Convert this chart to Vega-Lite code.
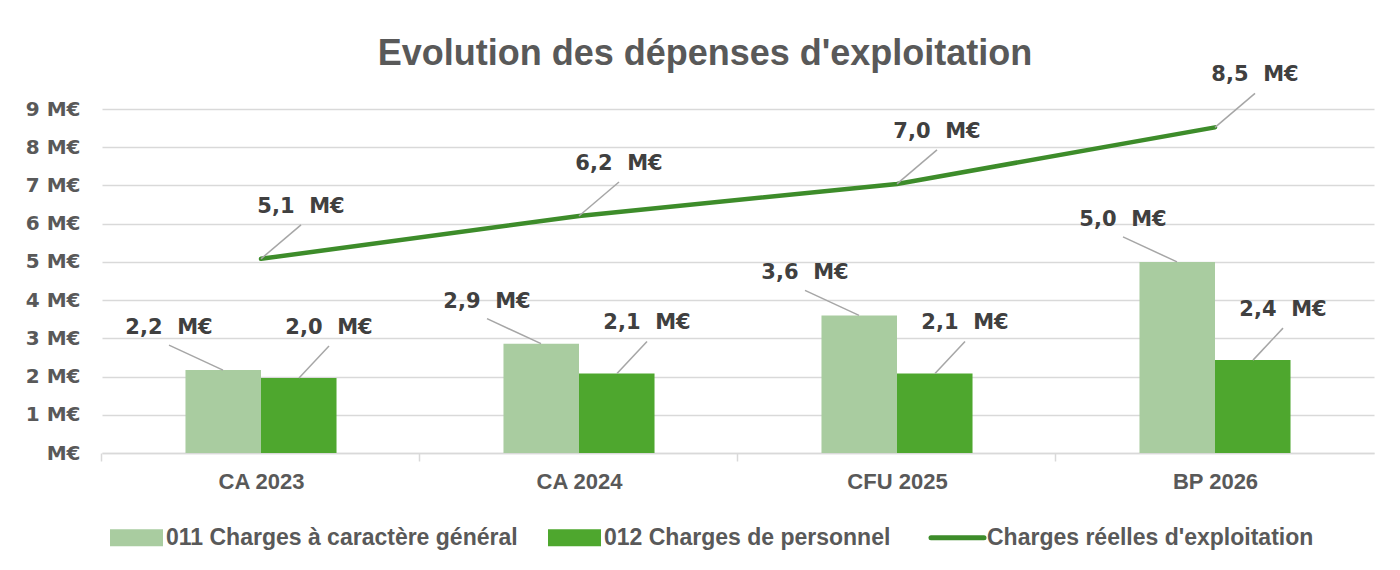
{
  "$schema": "https://vega.github.io/schema/vega-lite/v6.json",
  "width": 1272,
  "height": 344,
  "autosize": {"type": "none"},
  "padding": {"left": 102, "top": 109, "right": 26, "bottom": 117},
  "background": "white",
  "config": {"view": {"stroke": null}},
  "title": {
    "text": "Evolution des dépenses d'exploitation",
    "font": "Liberation Sans",
    "fontSize": 36,
    "fontWeight": "bold",
    "color": "#595959",
    "anchor": "middle",
    "frame": "group",
    "dx": -33,
    "offset": -9
  },
  "data": {
    "values": [
      {"cat": "CA 2023", "serie": "011 Charges à caractère général", "v": 2.17},
      {"cat": "CA 2024", "serie": "011 Charges à caractère général", "v": 2.86},
      {"cat": "CFU 2025", "serie": "011 Charges à caractère général", "v": 3.6},
      {"cat": "BP 2026", "serie": "011 Charges à caractère général", "v": 5.0},
      {"cat": "CA 2023", "serie": "012 Charges de personnel", "v": 1.96},
      {"cat": "CA 2024", "serie": "012 Charges de personnel", "v": 2.08},
      {"cat": "CFU 2025", "serie": "012 Charges de personnel", "v": 2.08},
      {"cat": "BP 2026", "serie": "012 Charges de personnel", "v": 2.43},
      {"cat": "CA 2023", "serie": "Charges réelles d'exploitation", "v": 5.08},
      {"cat": "CA 2024", "serie": "Charges réelles d'exploitation", "v": 6.2},
      {"cat": "CFU 2025", "serie": "Charges réelles d'exploitation", "v": 7.04},
      {"cat": "BP 2026", "serie": "Charges réelles d'exploitation", "v": 8.52}
    ]
  },
  "transform": [
    {"calculate": "replace(format(datum.v, '.1f'), '.', ',') + '\u00a0\u00a0M€'", "as": "label"}
  ],
  "encoding": {
    "x": {
      "field": "cat",
      "type": "nominal",
      "sort": ["CA 2023", "CA 2024", "CFU 2025", "BP 2026"],
      "scale": {"paddingInner": 0.525, "paddingOuter": 0.2625},
      "axis": {
        "title": null,
        "labelAngle": 0,
        "domainColor": "#d9d9d9",
        "domainWidth": 1.5,
        "tickColor": "#d9d9d9",
        "tickWidth": 1.5,
        "tickSize": 8,
        "bandPosition": 0,
        "tickOffset": -84,
        "labelOffset": 84,
        "labelFont": "Liberation Sans",
        "labelFontWeight": "bold",
        "labelFontSize": 22,
        "labelColor": "#595959",
        "labelPadding": 10,
        "grid": false
      }
    },
    "y": {
      "field": "v",
      "type": "quantitative",
      "scale": {"domain": [0, 9]},
      "axis": {
        "title": null,
        "values": [0, 1, 2, 3, 4, 5, 6, 7, 8, 9],
        "labelExpr": "datum.value === 0 ? 'M€' : datum.value + ' M€'",
        "domain": false,
        "ticks": false,
        "grid": true,
        "gridColor": "#d9d9d9",
        "gridWidth": 1.5,
        "labelFont": "DejaVu Sans",
        "labelFontWeight": "bold",
        "labelFontSize": 20,
        "labelColor": "#595959",
        "labelPadding": 22
      }
    }
  },
  "layer": [
    {
      "transform": [{"filter": "datum.serie !== \"Charges réelles d'exploitation\""}],
      "mark": {"type": "bar"},
      "encoding": {
        "xOffset": {"field": "serie", "type": "nominal", "scale": {"paddingInner": 0, "paddingOuter": 0}},
        "color": {
          "field": "serie",
          "type": "nominal",
          "scale": {
            "domain": ["011 Charges à caractère général", "012 Charges de personnel", "Charges réelles d'exploitation"],
            "range": ["#a9cca0", "#4ea72e", "#3d8c2a"]
          },
          "legend": {
            "title": null,
            "orient": "none",
            "legendX": 23,
            "legendY": 417,
            "direction": "horizontal",
            "symbolType": "M-1,-0.32H1V0.32H-1Z",
            "symbolSize": 2809,
            "symbolStrokeWidth": 0,
            "labelFont": "Liberation Sans",
            "labelFontWeight": "bold",
            "labelFontSize": 23,
            "labelColor": "#595959",
            "labelOffset": 18,
            "labelLimit": 600,
            "columnPadding": 30,
            "encode": {
              "symbols": {
                "update": {
                  "shape": {"signal": "test(/^C/, datum.value) ? 'M-1,0H1' : 'M-1,-0.32H1V0.32H-1Z'"},
                  "strokeWidth": {"signal": "test(/^C/, datum.value) ? 5 : 0"},
                  "strokeCap": {"value": "round"},
                  "stroke": {"scale": "color", "field": "value"},
                  "fill": {"scale": "color", "field": "value"},
                  "opacity": {"value": 1}
                }
              }
            }
          }
        }
      }
    },
    {
      "transform": [{"filter": "datum.serie === \"Charges réelles d'exploitation\""}],
      "mark": {"type": "line", "strokeWidth": 4.5, "strokeCap": "round"},
      "encoding": {
        "color": {"field": "serie", "type": "nominal"}
      }
    },
    {
      "transform": [{"filter": "datum.serie === '011 Charges à caractère général'"}],
      "mark": {"type": "rule", "stroke": "#a6a6a6", "strokeWidth": 1.5, "xOffset": -38, "x2Offset": -92, "y2Offset": -25},
      "encoding": {"x2": {"field": "cat"}, "y2": {"field": "v"}}
    },
    {
      "transform": [{"filter": "datum.serie === '012 Charges de personnel'"}],
      "mark": {"type": "rule", "stroke": "#a6a6a6", "strokeWidth": 1.5, "xOffset": 38, "x2Offset": 68, "y2Offset": -32},
      "encoding": {"x2": {"field": "cat"}, "y2": {"field": "v"}}
    },
    {
      "transform": [{"filter": "datum.serie === \"Charges réelles d'exploitation\""}],
      "mark": {"type": "rule", "stroke": "#a6a6a6", "strokeWidth": 1.5, "x2Offset": 40, "y2Offset": -34},
      "encoding": {"x2": {"field": "cat"}, "y2": {"field": "v"}}
    },
    {
      "transform": [{"filter": "datum.serie === '011 Charges à caractère général'"}],
      "mark": {"type": "text", "dx": -92, "dy": -36, "baseline": "alphabetic", "align": "center", "font": "DejaVu Sans", "fontWeight": "bold", "fontSize": 21, "color": "#404040"},
      "encoding": {"text": {"field": "label"}}
    },
    {
      "transform": [{"filter": "datum.serie === '012 Charges de personnel'"}],
      "mark": {"type": "text", "dx": 68, "dy": -44, "baseline": "alphabetic", "align": "center", "font": "DejaVu Sans", "fontWeight": "bold", "fontSize": 21, "color": "#404040"},
      "encoding": {"text": {"field": "label"}}
    },
    {
      "transform": [{"filter": "datum.serie === \"Charges réelles d'exploitation\""}],
      "mark": {"type": "text", "dx": 40, "dy": -46, "baseline": "alphabetic", "align": "center", "font": "DejaVu Sans", "fontWeight": "bold", "fontSize": 21, "color": "#404040"},
      "encoding": {"text": {"field": "label"}}
    }
  ]
}
